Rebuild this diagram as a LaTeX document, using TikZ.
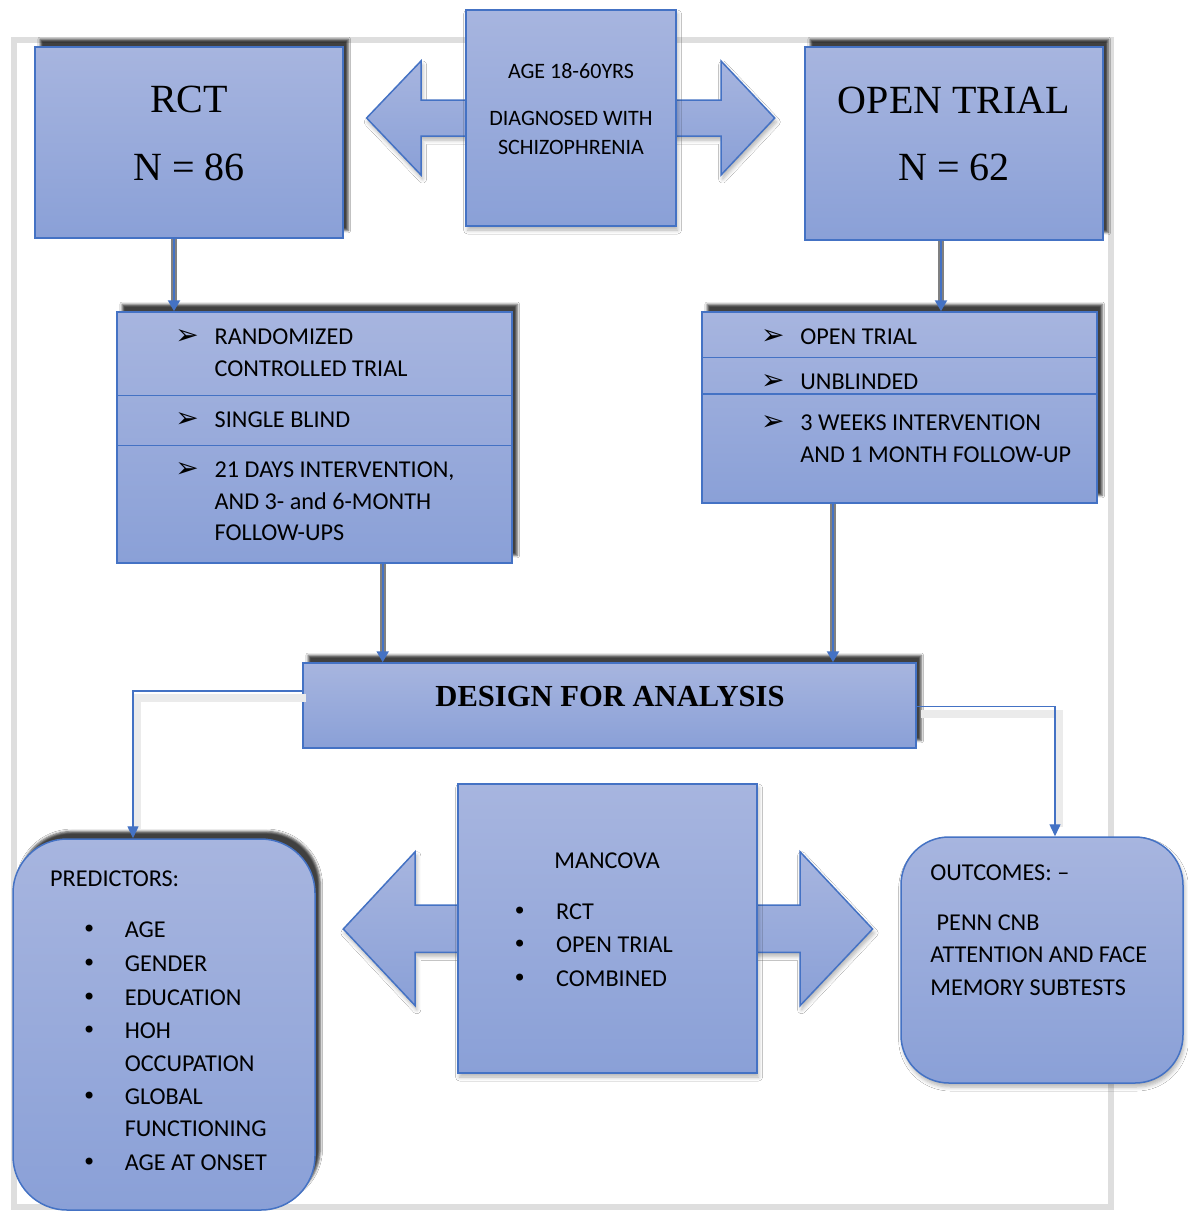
\documentclass[tikz,border=0pt]{standalone}
\usepackage{fontspec}
\setmainfont{Carlito}
\newfontfamily\seriffont{Liberation Serif}
\newfontfamily\symfont{DejaVu Sans}
\usetikzlibrary{shadows,shadows.blur,arrows.meta}
\definecolor{boxtop}{RGB}{167,181,223}
\definecolor{boxbot}{RGB}{138,160,215}
\definecolor{boxline}{RGB}{68,114,196}
\definecolor{frameg}{RGB}{222,222,222}
\begin{document}
\begin{tikzpicture}[x=0.5pt,y=-0.5pt,
  boxfill/.style={top color=boxtop,bottom color=boxbot,draw=boxline,line width=0.75pt},
  hardshadow/.style={blur shadow={shadow xshift=2.6pt,shadow yshift=3.8pt,shadow blur steps=4,shadow blur radius=1.2pt,shadow opacity=75}},
  softshadow/.style={blur shadow={shadow xshift=0.8pt,shadow yshift=-2pt,shadow blur steps=5,shadow blur radius=2pt,shadow opacity=30}},
  box/.style={boxfill,rectangle,inner sep=0pt},
  txt/.style={anchor=base west,inner sep=0pt,font=\fontsize{12.1}{14}\selectfont},
  ctxt/.style={anchor=base,inner sep=0pt,font=\fontsize{11}{13}\selectfont},
  big/.style={anchor=base,inner sep=0pt,font=\seriffont\fontsize{20}{24}\selectfont},
  arrb/.style={anchor=base west,inner sep=0pt,font=\symfont\fontsize{14}{16}\selectfont},
  dotb/.style={anchor=base,inner sep=0pt,font=\symfont\fontsize{12}{14}\selectfont},
  thickconn/.style={draw=boxline,line width=1.1pt,-{Triangle[length=5.5pt,width=6pt]},
    preaction={draw=black!50,line width=3pt,arrows=-,shorten >=3pt}},
  thinconn/.style={draw=boxline,line width=0.7pt,-{Triangle[length=6pt,width=5.5pt]}},
  connshadow/.style={draw=black!8,line width=4pt,shorten >=8pt,transform canvas={shift={(2pt,-3.5pt)}}},
  divider/.style={draw=boxline,line width=0.75pt}
]
\fill[white] (0,0) rectangle (1188,1212);
\useasboundingbox (0,0) rectangle (1188,1212);

% outer frame
\node[draw=frameg,line width=3pt,minimum width=548.35pt,minimum height=583.35pt,inner sep=0pt] (frame) at (562.35,623.35) {};

% top double block arrow
\path[boxfill,softshadow] (366.6,118) -- (421,61) -- (421,100) -- (721,100) -- (721,61)
  -- (774.7,118) -- (721,175) -- (721,136) -- (421,136) -- (421,175) -- cycle;

% eligibility box
\node[box,softshadow,minimum width=105pt,minimum height=108pt] (elig) at (571,118) {};
\node[ctxt] (e1) at (571,78.3) {AGE 18-60YRS};
\node[ctxt] (e2) at (571,125) {DIAGNOSED WITH};
\node[ctxt] (e3) at (571,154) {SCHIZOPHRENIA};

% RCT and OPEN TRIAL boxes
\node[box,hardshadow,minimum width=154pt,minimum height=95.5pt] (rct) at (189,142.5) {};
\node[big] (rct1) at (189,112.7) {RCT};
\node[big] (rct2) at (189,180) {N = 86};
\node[box,hardshadow,minimum width=149pt,minimum height=96.5pt] (open) at (954,143.5) {};
\node[big] (open1) at (954,113.3) {OPEN TRIAL};
\node[big] (open2) at (954,180) {N = 62};

% detail boxes
\node[box,hardshadow,minimum width=197.5pt,minimum height=125.5pt] (rctdet) at (314.5,437.5) {};
\coordinate (d1) at (0,395.7);
\coordinate (d2) at (0,445.7);
\draw[divider] (rctdet.west |- d1) -- (rctdet.east |- d1);
\draw[divider] (rctdet.west |- d2) -- (rctdet.east |- d2);
\node[arrb] (rb1) at (175,344) {➢};
\node[txt] (r1) at (214.3,344) {RANDOMIZED};
\node[txt] (r2) at (214.3,376) {CONTROLLED TRIAL};
\node[arrb] (rb2) at (175,427.3) {➢};
\node[txt] (r3) at (214.3,427.3) {SINGLE BLIND};
\node[arrb] (rb3) at (175,477.3) {➢};
\node[txt] (r4) at (214.3,477.3) {21 DAYS INTERVENTION,};
\node[txt] (r5) at (214.3,509.3) {AND 3- and 6-MONTH};
\node[txt] (r6) at (214.3,540.7) {FOLLOW-UPS};

\node[box,hardshadow,minimum width=197.5pt,minimum height=95.5pt] (opendet) at (899.5,407.5) {};
\coordinate (d3) at (0,357.3);
\coordinate (d4) at (0,394);
\draw[divider] (opendet.west |- d3) -- (opendet.east |- d3);
\draw[divider] (opendet.west |- d4) -- (opendet.east |- d4);
\node[arrb] (ob1) at (760.7,344) {➢};
\node[txt] (o1) at (800,344) {OPEN TRIAL};
\node[arrb] (ob2) at (760.7,389.3) {➢};
\node[txt] (o2) at (800,389.3) {UNBLINDED};
\node[arrb] (ob3) at (760.7,430) {➢};
\node[txt] (o3) at (800,430) {3 WEEKS INTERVENTION};
\node[txt] (o4) at (800,462.3) {AND 1 MONTH FOLLOW-UP};

% design box
\node[box,hardshadow,minimum width=306.5pt,minimum height=42.5pt] (design) at (609.5,705.5) {};
\node[anchor=base,inner sep=0pt,font=\seriffont\bfseries\fontsize{15.3}{18}\selectfont] (dt) at (610,706) {DESIGN FOR ANALYSIS};

% thick connectors
\coordinate (x1) at (174,0);
\coordinate (x2) at (941,0);
\coordinate (x3) at (382.7,0);
\coordinate (x4) at (833,0);
\draw[thickconn] (rct.south -| x1) -- (rctdet.north -| x1);
\draw[thickconn] (open.south -| x2) -- (opendet.north -| x2);
\draw[thickconn] (rctdet.south -| x3) -- (design.north -| x3);
\draw[thickconn] (opendet.south -| x4) -- (design.north -| x4);

% bottom double block arrow
\path[boxfill,softshadow] (343.3,929) -- (415.2,851.7) -- (415.2,905) -- (800,905) -- (800,851.7)
  -- (872.6,929) -- (800,1005.7) -- (800,952.3) -- (415.2,952.3) -- (415.2,1005.7) -- cycle;

% MANCOVA
\node[box,softshadow,minimum width=149.5pt,minimum height=144.5pt] (mancova) at (607.5,928.5) {};
\node[txt] (m0) at (554,868.3) {MANCOVA};
\node[dotb] (mb1) at (519.7,919) {•};
\node[txt] (m1) at (555.7,919) {RCT};
\node[dotb] (mb2) at (519.7,952.7) {•};
\node[txt] (m2) at (555.7,952.7) {OPEN TRIAL};
\node[dotb] (mb3) at (519.7,986) {•};
\node[txt] (m3) at (555.7,986) {COMBINED};

% predictors
\node[box,hardshadow,rounded corners=27pt,minimum width=151pt,minimum height=185.5pt] (pred) at (164,1024.5) {};
\node[txt] (p0) at (49.8,886.7) {PREDICTORS:};
\node[dotb] (pb1) at (89.2,937.7) {•};
\node[txt] (p1) at (124.4,937.7) {AGE};
\node[dotb] (pb2) at (89.2,971.7) {•};
\node[txt] (p2) at (124.4,971.7) {GENDER};
\node[dotb] (pb3) at (89.2,1005) {•};
\node[txt] (p3) at (124.4,1005) {EDUCATION};
\node[dotb] (pb4) at (89.2,1038.3) {•};
\node[txt] (p4) at (124.4,1038.3) {HOH};
\node[txt] (p5) at (124.4,1071) {OCCUPATION};
\node[dotb] (pb6) at (89.2,1104) {•};
\node[txt] (p6) at (124.4,1104) {GLOBAL};
\node[txt] (p7) at (124.4,1136.7) {FUNCTIONING};
\node[dotb] (pb8) at (89.2,1170) {•};
\node[txt] (p8) at (124.4,1170) {AGE AT ONSET};

% outcomes
\node[box,softshadow,rounded corners=24pt,minimum width=141pt,minimum height=123pt] (outc) at (1042,960) {};
\node[txt] (q0) at (930,880) {OUTCOMES: –};
\node[txt] (q1) at (936.3,930) {PENN CNB};
\node[txt] (q2) at (930,962.7) {ATTENTION AND FACE};
\node[txt] (q3) at (930,995) {MEMORY SUBTESTS};

% thin connectors
\coordinate (ly) at (0,691);
\coordinate (lx) at (133,0);
\coordinate (ry) at (0,706.7);
\coordinate (rx) at (1055,0);
\draw[connshadow] (design.west |- ly) -| (pred.north -| lx);
\draw[connshadow] (design.east |- ry) -| (outc.north -| rx);
\draw[thinconn] (design.west |- ly) -| (pred.north -| lx);
\draw[thinconn] (design.east |- ry) -| (outc.north -| rx);
\end{tikzpicture}
\end{document}
